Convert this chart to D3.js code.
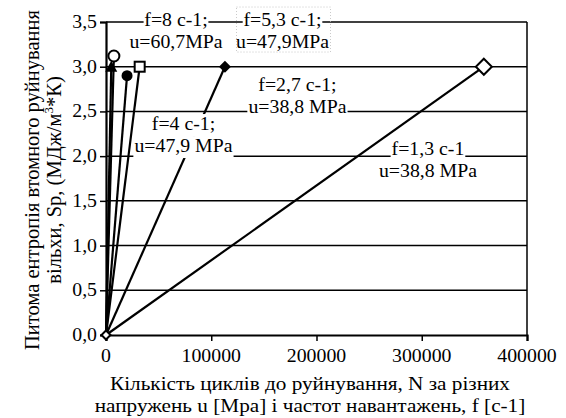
<!DOCTYPE html>
<html><head><meta charset="utf-8">
<script src="https://cdn.jsdelivr.net/npm/d3@7"></script>
<style>
svg text { font-family: 'Liberation Serif', 'Times New Roman', serif !important; }
</style>
</head>
<body style="margin:0">
<svg id="chart" width="566" height="418" style="font-family:'Liberation Serif'"></svg>
<script>
// ---- data ----
const xTicks = [0, 100000, 200000, 300000, 400000];
const yTicks = [0, 0.5, 1.0, 1.5, 2.0, 2.5, 3.0, 3.5];
const seriesN  = [7500, 5000, 20000, 32000, 113000, 359000];
const seriesSp = [3.12, 3.0, 2.9, 3.0, 3.0, 3.0];
const seriesMarker = ["circleOpen", "triangle", "circle", "squareOpen", "diamond", "diamondOpen"];
const labelLines = [
  ["f=8 c-1;", "u=60,7MPa"],
  ["f=5,3 c-1;", "u=47,9MPa"],
  ["f=2,7 c-1;", "u=38,8 MPa"],
  ["f=4 c-1;", "u=47,9 MPa"],
  ["f=1,3 c-1", "u=38,8 MPa"]
];
const labelN  = [66500, 167700, 181900, 73600, 305900];
const labelSp = [3.455, 3.455, 2.728, 2.292, 2.013];
const yTitle = ["Питома ентропія втомного руйнування", "вільхи, Sp, (МДж/м", "*К)"];
const xTitle = ["Кількість циклів до руйнування, N за різних", "напружень u [Мра] і частот навантажень, f [с-1]"];

// ---- layout ----
const FF = "Liberation Serif";
const FS = 18, SX = 1.1;
const svg = d3.select("#chart");
const x = d3.scaleLinear().domain([0, 400000]).range([106, 527]);
const y = d3.scaleLinear().domain([0, 3.5]).range([335, 22]);
const fmtY = v => d3.format(".1f")(v).replace(".", ",");

function addText(sel, str, size) {
  return sel.append("text").attr("font-family", FF).style("font-family", "'Liberation Serif'")
    .attr("font-size", size).attr("fill", "#000").text(str);
}
function stext(g, tx, ty, str, anchor, size) {
  const gg = g.append("g").attr("transform", `translate(${tx},${ty}) scale(${SX},1)`);
  const t = addText(gg, str, size || FS).attr("text-anchor", anchor || "middle");
  return {g: gg, t: t};
}

// gridlines
svg.append("g").selectAll("line").data(yTicks.filter(d => d > 0)).join("line")
  .attr("x1", x(0)).attr("x2", x(400000))
  .attr("y1", d => y(d)).attr("y2", d => y(d))
  .attr("stroke", "#000").attr("stroke-width", 1.5);
// right border
svg.append("line").attr("x1", x(400000)).attr("x2", x(400000))
  .attr("y1", y(3.5)).attr("y2", y(0)).attr("stroke", "#000").attr("stroke-width", 1.5);

// axes
const xAxis = svg.append("g").attr("transform", `translate(0,${y(0)})`)
  .call(d3.axisBottom(x).tickValues(xTicks).tickSize(6).tickFormat(d => ""));
xAxis.select(".domain").attr("stroke-width", 2.2);
xAxis.selectAll(".tick line").attr("stroke-width", 1.5);
xAxis.selectAll(".tick text").remove();
const yAxis = svg.append("g").attr("transform", `translate(${x(0)},0)`)
  .call(d3.axisLeft(y).tickValues(yTicks).tickSize(6).tickFormat(d => ""));
yAxis.select(".domain").attr("stroke-width", 2.2);
yAxis.selectAll(".tick line").attr("stroke-width", 1.5);
yAxis.selectAll(".tick text").remove();

const tl = svg.append("g");
xTicks.forEach(v => stext(tl, x(v), 362, String(v), "middle"));
yTicks.forEach(v => stext(tl, 97, y(v) + 6, fmtY(v), "end"));

// series lines
const lineG = svg.append("g");
seriesN.forEach((n, i) => {
  lineG.append("path")
    .datum([[0, 0], [n, seriesSp[i]]])
    .attr("d", d3.line().x(d => x(d[0])).y(d => y(d[1])))
    .attr("fill", "none").attr("stroke", "#000").attr("stroke-width", 2.2);
});

// labels with white per-line backgrounds (Times-like width estimate)
const labG = svg.append("g");
const cw = ch => ("MW".includes(ch) ? 0.89 : "P=".includes(ch) ? 0.56 : ",;. ".includes(ch) ? 0.25 : "f-".includes(ch) ? 0.33 : "ac".includes(ch) ? 0.44 : 0.5);
labelLines.forEach((lines, i) => {
  lines.forEach((s, j) => {
    const cx = x(labelN[i]), by = y(labelSp[i]) + j * 22;
    const w = Array.from(s).reduce((a, c) => a + cw(c), 0) * FS;
    const gg = labG.append("g").attr("transform", `translate(${cx},${by}) scale(${SX},1)`);
    gg.append("rect").attr("x", -w / 2 - 1).attr("y", -16).attr("width", w + 2).attr("height", 22).attr("fill", "#fff");
    addText(gg, s, FS).attr("text-anchor", "middle");
  });
});
// faint dotted selection box around second label
{
  const cx = x(labelN[1]), by = y(labelSp[1]);
  svg.append("rect").attr("x", cx - 46).attr("y", by - 19).attr("width", 94).attr("height", 45)
    .attr("fill", "none").attr("stroke", "#bbb").attr("stroke-width", 0.8).attr("stroke-dasharray", "1,2");
}

// markers
const mk = svg.append("g");
function marker(type, px, py) {
  const S = "#000";
  if (type === "circleOpen") mk.append("circle").attr("cx", px).attr("cy", py).attr("r", 5.5).attr("fill", "#fff").attr("stroke", S).attr("stroke-width", 2);
  if (type === "circle") mk.append("circle").attr("cx", px).attr("cy", py).attr("r", 5.5).attr("fill", S);
  if (type === "triangle") mk.append("path").attr("d", `M${px},${py-6}L${px+6},${py+5}L${px-6},${py+5}Z`).attr("fill", S);
  if (type === "squareOpen") mk.append("rect").attr("x", px - 5).attr("y", py - 5).attr("width", 10).attr("height", 10).attr("fill", "#fff").attr("stroke", S).attr("stroke-width", 2);
  if (type === "diamond") mk.append("path").attr("d", `M${px},${py-6}L${px+6},${py}L${px},${py+6}L${px-6},${py}Z`).attr("fill", S);
  if (type === "diamondOpen") mk.append("path").attr("d", `M${px},${py-8}L${px+8},${py}L${px},${py+8}L${px-8},${py}Z`).attr("fill", "#fff").attr("stroke", S).attr("stroke-width", 2);
}
seriesN.forEach((n, i) => marker(seriesMarker[i], x(n), y(seriesSp[i])));
mk.append("path").attr("d", `M${x(0)},${y(0)-4.5}L${x(0)+4.5},${y(0)}L${x(0)},${y(0)+4.5}L${x(0)-4.5},${y(0)}Z`)
  .attr("fill", "#fff").attr("stroke", "#000").attr("stroke-width", 2);

// axis titles
const tg = svg.append("g");
xTitle.forEach((s, j) => stext(tg, 310, 390 + j * 22, s, "middle", 19.3));
const yt = svg.append("g");
addText(yt, yTitle[0], 20.5).attr("transform", "translate(39,180) rotate(-90)").attr("text-anchor", "middle");
const t2 = addText(yt, null, 20.5).attr("transform", "translate(61,180) rotate(-90)").attr("text-anchor", "middle");
t2.append("tspan").text(yTitle[1]);
t2.append("tspan").attr("font-size", 13).attr("dy", -8).text("3");
t2.append("tspan").attr("dy", 8).text(yTitle[2]);
</script>
</body></html>
